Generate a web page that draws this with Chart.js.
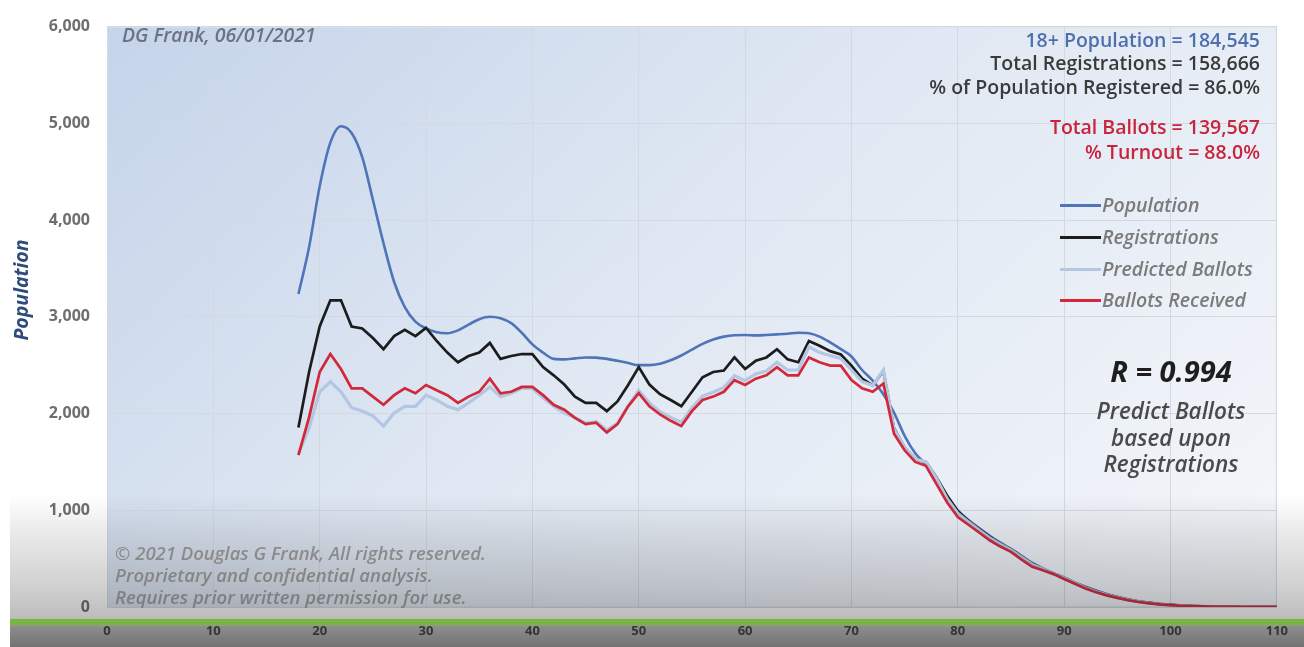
<!DOCTYPE html>
<html><head><meta charset="utf-8">
<script src="https://cdn.jsdelivr.net/npm/chart.js@4.4.1/dist/chart.umd.min.js"></script>
<style>
html,body{margin:0;padding:0;background:#fff;}
#wrap{position:relative;width:1304px;height:647px;overflow:hidden;font-family:'Open Sans',sans-serif;}
canvas{position:absolute;left:0;top:0;}
.ln{position:absolute;white-space:nowrap;height:24px;line-height:24px;}
#stats .ln{right:44px;text-align:right;font-weight:600;font-size:19.5px;}
#legend .row{position:absolute;left:1060px;height:24px;line-height:24px;white-space:nowrap;font-style:italic;font-weight:600;font-size:19.5px;color:#7b7b7b;}
#legend .sw{display:inline-block;width:41px;height:3px;vertical-align:middle;margin-right:1px;position:relative;top:-1px;}
.rb{position:absolute;left:1051px;width:240px;text-align:center;white-space:nowrap;height:28px;line-height:28px;}
.cp{position:absolute;left:115px;white-space:nowrap;height:22px;line-height:22px;font-style:italic;font-weight:600;font-size:18.5px;color:#9c9c9c;}
</style></head><body>
<div id="wrap">
<canvas id="c" width="1304" height="647"></canvas>

<div id="ytitle" style="position:absolute;left:-49px;top:277px;width:140px;height:26px;line-height:26px;text-align:center;transform:rotate(-90deg);font-style:italic;font-weight:700;font-size:19.5px;color:#2e4b7c;white-space:nowrap;">Population</div>

<div class="ln" style="left:122px;top:23px;font-style:italic;font-weight:600;font-size:19.5px;color:#6b7383;">DG Frank, 06/01/2021</div>

<div id="stats">
  <div class="ln" style="top:28px;color:#4e6fae;">18+ Population = 184,545</div>
  <div class="ln" style="top:51px;color:#3a3a3a;">Total Registrations = 158,666</div>
  <div class="ln" style="top:75px;color:#3a3a3a;">% of Population Registered = 86.0%</div>
  <div class="ln" style="top:115px;color:#c8243c;">Total Ballots = 139,567</div>
  <div class="ln" style="top:140px;color:#c8243c;">% Turnout = 88.0%</div>
</div>

<div id="legend"></div>

<div class="rb" style="top:357px;font-style:italic;font-weight:700;font-size:29px;color:#1e1e1e;">R = 0.994</div>
<div class="rb" style="top:397px;font-style:italic;font-weight:600;font-size:22.5px;color:#4a4a4a;">Predict Ballots</div>
<div class="rb" style="top:424px;font-style:italic;font-weight:600;font-size:22.5px;color:#4a4a4a;">based upon</div>
<div class="rb" style="top:450px;font-style:italic;font-weight:600;font-size:22.5px;color:#4a4a4a;">Registrations</div>

<div class="cp" style="top:542px;">© 2021 Douglas G Frank, All rights reserved.</div>
<div class="cp" style="top:564px;">Proprietary and confidential analysis.</div>
<div class="cp" style="top:586px;">Requires prior written permission for use.</div>

<div id="overlay" style="position:absolute;left:10px;top:495px;width:1294px;height:152px;pointer-events:none;background:linear-gradient(to bottom, rgba(35,35,35,0) 0px, rgba(35,35,35,0.10) 40px, rgba(35,35,35,0.22) 95px, rgba(35,35,35,0.30) 123px, rgba(35,35,35,0.52) 132px, rgba(35,35,35,0.64) 152px);"></div>
<div id="green" style="position:absolute;left:10px;top:619px;width:1294px;height:6px;background:#79b543;"></div>
</div>

<script>
// ---- data ----
const ages = [];
for (let a = 18; a <= 110; a++) ages.push(a);

const xTicks = [0,10,20,30,40,50,60,70,80,90,100,110];
const yTicks = [0,1000,2000,3000,4000,5000,6000];

const population = [
 3235,3720,4350,4800,4970,4900,4650,4210,3760,3360,
 3100,2950,2880,2840,2830,2860,2920,2975,3000,2985,
 2935,2835,2715,2630,2565,2560,2570,2580,2578,2565,
 2545,2522,2500,2500,2515,2550,2600,2660,2720,2765,
 2795,2810,2812,2808,2812,2818,2825,2835,2830,2795,
 2735,2665,2590,2450,2340,2200,2010,1770,1590,1470,
 1320,1150,1000,900,815,735,665,600,530,455,
 400,350,305,255,210,170,135,105,80,60,
 45,32,22,15,11,8,6,5,4,3,
 3,2,2
];
const registrations = [
 1855,2430,2900,3170,3170,2900,2880,2780,2665,2800,
 2865,2800,2885,2750,2630,2530,2595,2630,2730,2565,
 2595,2615,2615,2480,2395,2300,2175,2110,2110,2025,
 2125,2295,2480,2300,2200,2140,2075,2225,2375,2430,
 2445,2580,2460,2545,2580,2665,2560,2530,2750,2700,
 2645,2610,2495,2360,2290,2440,1850,1650,1530,1500,
 1340,1150,990,890,805,725,655,595,520,445,
 395,345,300,250,205,165,130,100,76,57,
 42,30,21,14,10,7,5,4,3,3,
 2,2,2
];
const predicted = [
 1580,1850,2225,2330,2225,2060,2025,1975,1870,2005,
 2075,2075,2190,2140,2075,2040,2110,2190,2275,2175,
 2210,2260,2260,2160,2075,2005,1960,1900,1915,1830,
 1900,2080,2240,2110,2020,1960,1910,2060,2180,2220,
 2270,2390,2340,2410,2440,2530,2450,2450,2690,2630,
 2600,2570,2450,2330,2290,2450,1840,1650,1530,1500,
 1330,1120,970,880,795,715,650,590,515,440,
 395,345,300,250,200,160,128,100,75,56,
 41,29,20,14,10,7,5,4,3,3,
 2,2,2
];
const received = [
 1570,1960,2430,2615,2460,2260,2260,2175,2090,2190,
 2260,2210,2295,2240,2190,2110,2175,2225,2360,2210,
 2225,2275,2275,2190,2090,2040,1955,1890,1905,1805,
 1890,2075,2210,2075,1990,1925,1870,2025,2140,2175,
 2225,2345,2295,2360,2395,2480,2395,2395,2580,2530,
 2495,2495,2345,2260,2225,2310,1790,1620,1500,1460,
 1270,1080,930,850,770,690,625,570,490,415,
 380,340,290,240,192,152,120,94,70,52,
 38,27,19,13,9,6,5,4,3,2,
 2,2,2
];

const seriesNames = ['Population','Registrations','Predicted Ballots','Ballots Received'];
const seriesColors = ['#4f74b8','#1c1c1c','#b3c6e2','#d2283a'];

function pts(vals){ return ages.map((a,i)=>({x:a, y:vals[i]})); }

const plotBg = {
  id:'plotBg',
  beforeDraw(chart){
    const {ctx, chartArea:a} = chart;
    const g = ctx.createLinearGradient(a.left, a.top, a.left + a.width*0.75, a.bottom + a.height*0.6);
    g.addColorStop(0,'#c5d4ea');
    g.addColorStop(0.45,'#e0e8f3');
    g.addColorStop(1,'#f6f8fb');
    ctx.save();
    ctx.fillStyle = g;
    ctx.fillRect(a.left, a.top, a.width, a.height);
    ctx.strokeStyle = '#dfe3ea';
    ctx.lineWidth = 1;
    ctx.strokeRect(a.left+0.5, a.top+0.5, a.width-1, a.height-1);
    ctx.restore();
  }
};

const widths = [2.6,2.7,3.2,2.7];
const tensions = [0.4,0,0,0];
const orders = [4,3,2,1];

const chart = new Chart(document.getElementById('c'), {
  type:'line',
  data:{
    datasets: seriesNames.map((n,i)=>({
      label:n,
      data: pts([population,registrations,predicted,received][i]),
      borderColor: seriesColors[i],
      backgroundColor: seriesColors[i],
      borderWidth: widths[i],
      tension: tensions[i],
      cubicInterpolationMode: i===0 ? 'monotone' : 'default',
      order: orders[i],
      pointRadius:0,
      fill:false
    }))
  },
  options:{
    responsive:false,
    animation:false,
    devicePixelRatio:1,
    layout:{padding:{top:14,right:27,left:0,bottom:0}},
    plugins:{legend:{display:false}, tooltip:{enabled:false}},
    scales:{
      x:{
        type:'linear', min:0, max:110,
        afterBuildTicks(s){ s.ticks = xTicks.map(v=>({value:v})); },
        ticks:{padding:16, color:'#4a4a4a', font:{family:'Open Sans', weight:'bold', size:13}},
        grid:{color:'#d4d9e1', drawTicks:false, lineWidth:1},
        border:{display:false},
        afterFit(s){ s.height = 40; }
      },
      y:{
        min:0, max:6000,
        afterBuildTicks(s){ s.ticks = yTicks.map(v=>({value:v})); },
        ticks:{padding:17, color:'#6e6e6e', font:{family:'Open Sans', weight:'bold', size:16},
          callback:v=>v.toLocaleString('en-US')},
        grid:{color:'#d4d9e1', drawTicks:false, lineWidth:1},
        border:{display:false},
        afterFit(s){ s.width = 107; }
      }
    }
  },
  plugins:[plotBg]
});

// HTML legend built from datasets
const legendTops = [193,225,257,288];
const lg = document.getElementById('legend');
chart.data.datasets.forEach((d,i)=>{
  const row = document.createElement('div');
  row.className = 'row';
  row.style.top = legendTops[i] + 'px';
  const sw = document.createElement('span');
  sw.className = 'sw';
  sw.style.background = d.borderColor;
  row.appendChild(sw);
  row.appendChild(document.createTextNode(d.label));
  lg.appendChild(row);
});
</script>
</body></html>
